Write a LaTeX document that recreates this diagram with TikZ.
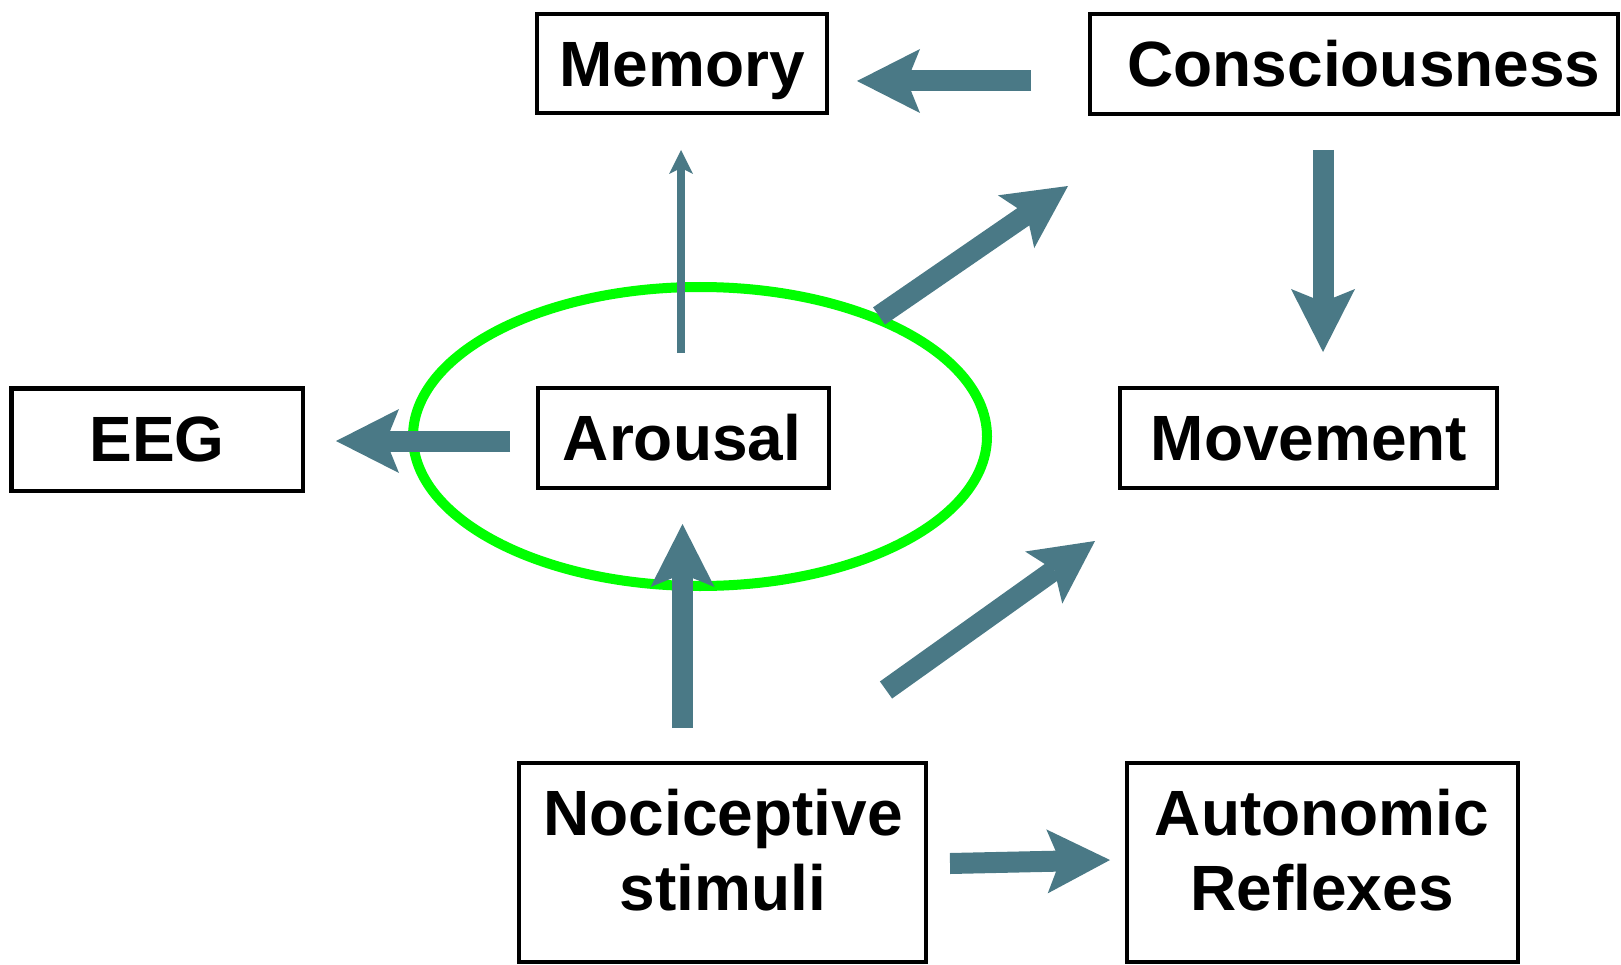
\documentclass[tikz,border=0pt]{standalone}
\usepackage{fontspec}
\setmainfont{Liberation Sans}
\usetikzlibrary{arrows.meta}
\definecolor{arrowc}{RGB}{74,121,134}
\definecolor{ringc}{RGB}{0,255,0}
\tikzset{
  box/.style={draw=black, line width=4.5pt, fill=none, inner sep=0pt},
  lbl/.style={anchor=base, inner sep=0pt, font=\fontsize{64}{74}\selectfont\bfseries, align=center},
  flow/.style={draw=arrowc, line width=21pt, -{Stealth[length=63pt, width=64pt, inset=13pt, line width=0pt]}},
  thinflow/.style={draw=arrowc, line width=8pt, -{Stealth[length=24pt, width=24pt, inset=6pt, line width=0pt]}},
}
\begin{document}
\begin{tikzpicture}[x=1pt, y=-1pt]
\useasboundingbox (0,0) rectangle (1621,965);
% boxes
\node[box, minimum width=290pt, minimum height=99pt] (mem) at (682,63.5) {};
\node[box, minimum width=528pt, minimum height=100pt] (cons) at (1354,64) {};
\node[box, minimum width=291pt, minimum height=100pt] (arou) at (683.5,438) {};
\node[box, minimum width=291.5pt, minimum height=102.5pt] (eeg) at (157.25,439.75) {};
\node[box, minimum width=377pt, minimum height=100pt] (move) at (1308.5,438) {};
\node[box, minimum width=407pt, minimum height=199pt] (noci) at (722.5,862.5) {};
\node[box, minimum width=391pt, minimum height=199pt] (auto) at (1322.5,862.5) {};
% labels
\node[lbl] (memt) at (682,87) {Memory};
\node[lbl] (const) at (1364,87) {Consciousness};
\node[lbl] (arout) at (682,460) {Arousal};
\node[lbl] (eegt) at (157,461) {EEG};
\node[lbl] (movet) at (1309,460) {Movement};
\node[lbl] (nocit1) at (723,835) {Nociceptive};
\node[lbl] (nocit2) at (723,910) {stimuli};
\node[lbl] (autot1) at (1322,835) {Autonomic};
\node[lbl] (autot2) at (1322,910) {Reflexes};
% ring
\draw[ringc, line width=10pt] (700,436.5) ellipse [x radius=287pt, y radius=149.5pt];
% connector end points
\coordinate (c2m-s) at (1031,81);   \coordinate (c2m-e) at (857,81);
\coordinate (a2m-s) at (681,353);   \coordinate (a2m-e) at (681,150);
\coordinate (a2c-s) at (879,316);   \coordinate (a2c-e) at (1068,186);
\coordinate (a2e-s) at (510,441);   \coordinate (a2e-e) at (336,441);
\coordinate (c2v-s) at (1323,150);  \coordinate (c2v-e) at (1323,352);
\coordinate (n2a-s) at (682.5,728); \coordinate (n2a-e) at (682.5,524);
\coordinate (n2v-s) at (886,690);   \coordinate (n2v-e) at (1095,541);
\coordinate (n2r-s) at (950,863.5); \coordinate (n2r-e) at (1110,860);
% connectors
\draw[flow] (c2m-s) -- (c2m-e);
\draw[thinflow] (a2m-s) -- (a2m-e);
\draw[flow] (a2c-s) -- (a2c-e);
\draw[flow] (a2e-s) -- (a2e-e);
\draw[flow] (c2v-s) -- (c2v-e);
\draw[flow] (n2a-s) -- (n2a-e);
\draw[flow] (n2v-s) -- (n2v-e);
\draw[flow] (n2r-s) -- (n2r-e);
\end{tikzpicture}
\end{document}
